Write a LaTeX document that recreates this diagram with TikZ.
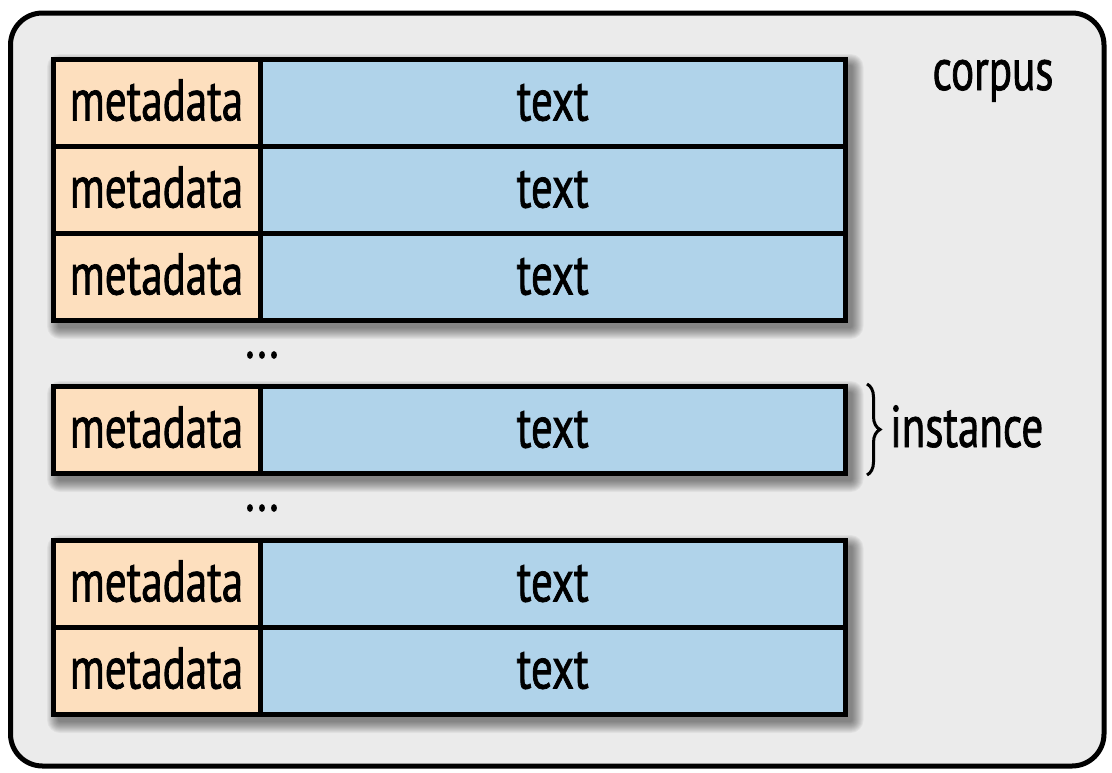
\documentclass[tikz,border=0pt]{standalone}
\usepackage{fontspec}
\setmainfont{PT Sans}[FakeStretch=0.73,FakeBold=1.2]
\usetikzlibrary{decorations.pathreplacing}
\definecolor{bggray}{HTML}{EBEBEB}
\definecolor{peach}{HTML}{FDDFBE}
\definecolor{lblue}{HTML}{B0D3EA}
\newcommand\mysoftshadow[4]{%
  \foreach \i [evaluate=\i as \rr using 13-\i] in {0,...,11}{%
    \fill[black,opacity=0.045,rounded corners=\rr pt]
      ({#1+6-12+\i},{#2+7-12+\i}) rectangle ({#3+6+12-\i},{#4+7+12-\i});
  }%
}
\begin{document}
\begin{tikzpicture}[x=1pt,y=-1pt,
  cell/.style={draw=black, line width=5pt, rectangle, anchor=north west,
    minimum height=87pt, inner sep=0pt, outer sep=0pt,
    font=\fontsize{59}{61}\selectfont, text height=40pt, text depth=4pt},
  meta/.style={cell, fill=peach, minimum width=207pt},
  txt/.style={cell, fill=lblue, minimum width=585.5pt},
  lbl/.style={font=\fontsize{59}{61}\selectfont, inner sep=0pt}]
\useasboundingbox (0,0) rectangle (1112,772);
\path[fill=bggray, draw=black, line width=5pt, rounded corners=32pt]
  (10.5,13) rectangle (1104,766);
\mysoftshadow{53}{59}{845.5}{320}
\mysoftshadow{53}{386}{845.5}{473}
\mysoftshadow{53}{540}{845.5}{714}
\node[meta] (m1) at (53,59) {metadata};
\node[txt] (t1) at (m1.north east) {text};
\node[meta] (m2) at (m1.south west) {metadata};
\node[txt] (t2) at (m2.north east) {text};
\node[meta] (m3) at (m2.south west) {metadata};
\node[txt] (t3) at (m3.north east) {text};
\node[lbl] (d1) at (262,355) {...};
\node[meta] (m4) at (53,386) {metadata};
\node[txt] (t4) at (m4.north east) {text};
\node[lbl] (d2) at (262,508) {...};
\node[meta] (m5) at (53,540) {metadata};
\node[txt] (t5) at (m5.north east) {text};
\node[meta] (m6) at (m5.south west) {metadata};
\node[txt] (t6) at (m6.north east) {text};
\node[lbl, anchor=base] (corpus) at (993,90) {corpus};
\draw[decorate, decoration={brace, amplitude=13pt}, line width=3pt]
  ([xshift=21.5pt,yshift=2pt]t4.north east) -- ([xshift=21.5pt,yshift=-2pt]t4.south east);
\node[lbl, anchor=base west] (inst) at (890,447) {instance};
\end{tikzpicture}
\end{document}
